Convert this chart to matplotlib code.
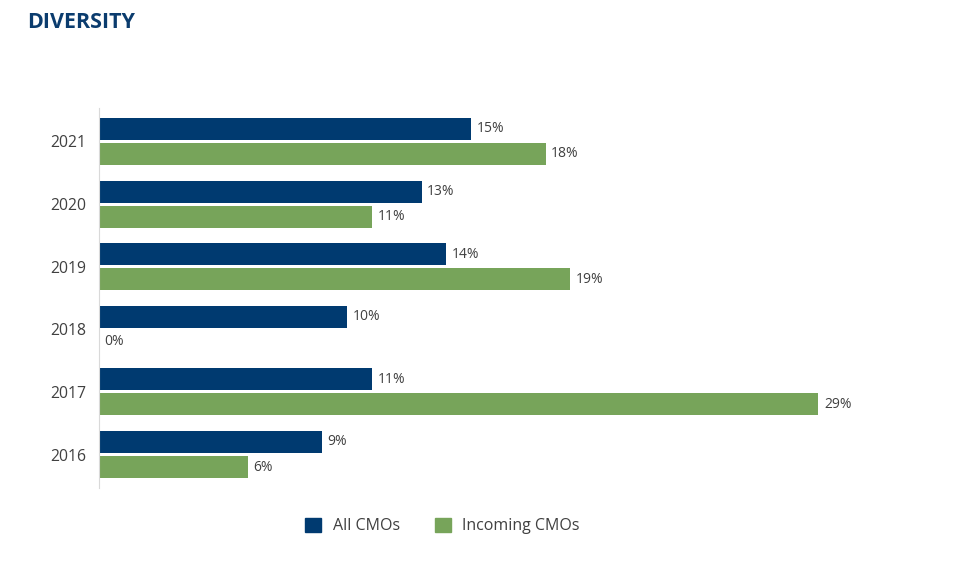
import numpy as np
import matplotlib.pyplot as plt
from matplotlib.patches import Patch

years = ['2016', '2017', '2018', '2019', '2020', '2021']
all_cmos = [9, 11, 10, 14, 13, 15]
incoming_cmos = [6, 29, 0, 19, 11, 18]

NAVY = '#003A70'
GREEN = '#77A45A'
TEXT = '#404040'

plt.rcParams['font.family'] = ['Open Sans', 'DejaVu Sans']

fig = plt.figure(figsize=(9.64, 5.63), dpi=100)
ax = fig.add_axes([0.1027, 0.1332, 0.8493, 0.675])

y = np.arange(len(years))
h = 0.35
off = 0.2
b1 = ax.barh(y + off, all_cmos, height=h, color=NAVY)
b2 = ax.barh(y - off, incoming_cmos, height=h, color=GREEN)

for bars, vals in ((b1, all_cmos), (b2, incoming_cmos)):
    for bar, v in zip(bars, vals):
        ax.text(v + 0.22, bar.get_y() + bar.get_height() / 2, f'{v}%',
                va='center', ha='left', fontsize=10, color=TEXT)

ax.set_xlim(0, 33)
ax.set_ylim(-0.535, len(years) - 0.465)
ax.set_yticks(y)
ax.set_yticklabels(years, fontsize=11.3, color=TEXT)
ax.tick_params(axis='y', length=0, pad=9.5)
ax.set_xticks([])
for s in ('top', 'right', 'bottom'):
    ax.spines[s].set_visible(False)
ax.spines['left'].set_color('#D9D9D9')

fig.text(0.028, 0.96, 'DIVERSITY', fontsize=15.5, fontweight='bold',
         color='#0B3C6E', va='center', ha='left')

handles = [Patch(color=NAVY, label='All CMOs'), Patch(color=GREEN, label='Incoming CMOs')]
leg = fig.legend(handles=handles, loc='center', bbox_to_anchor=(0.459, 0.066), ncol=2,
                 frameon=False, fontsize=11.5, handlelength=1.0, handleheight=1.0,
                 columnspacing=2.2, handletextpad=0.7)
for t in leg.get_texts():
    t.set_color(TEXT)

fig.savefig('out.png', dpi=100)
